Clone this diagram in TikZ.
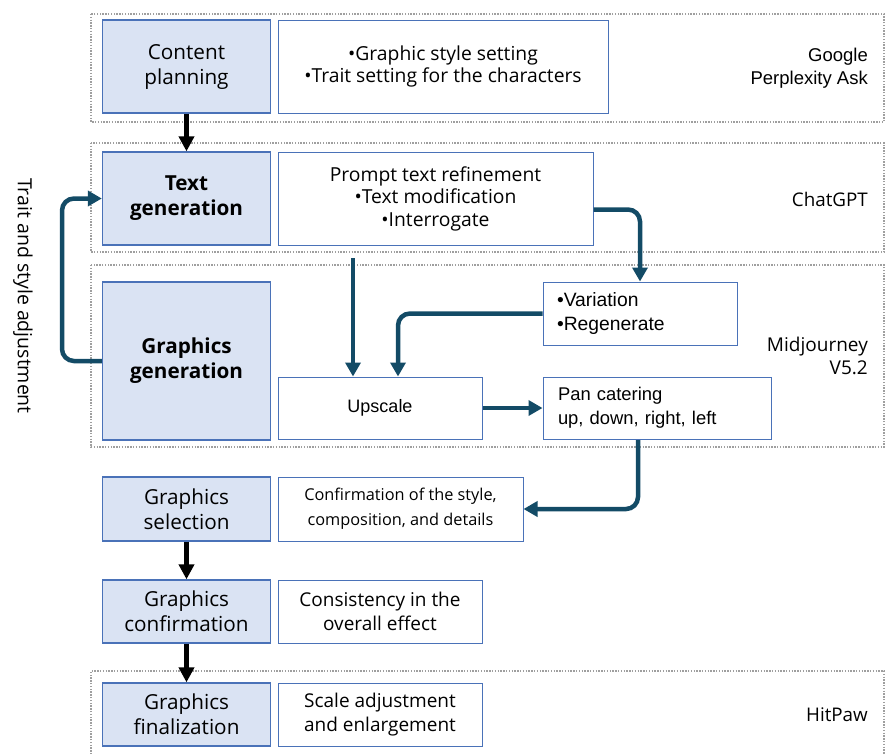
\documentclass[tikz,border=0pt]{standalone}
\usepackage{fontspec}
\setmainfont{Open Sans}
\newfontfamily\arialfont{Liberation Sans}
\usetikzlibrary{arrows.meta}
\definecolor{boxblue}{HTML}{DAE3F3}
\definecolor{edgeblue}{HTML}{4A72B8}
\definecolor{flowteal}{HTML}{134B66}
\tikzset{
  stage/.style={draw=edgeblue, fill=boxblue, line width=1.3pt, minimum width=168pt,
    align=center, inner sep=0pt, font=\fontsize{20.7}{25}\selectfont},
  info/.style={draw=edgeblue, fill=white, line width=1pt, align=center, inner sep=0pt,
    font=\fontsize{19.3}{22.5}\selectfont},
  group/.style={draw=gray!75, line width=1.4pt, dash pattern=on 1.4pt off 1.4pt},
  tool/.style={anchor=east, align=right, inner sep=0pt},
  down/.style={line width=5.5pt, -{Triangle[length=15pt,width=15pt]}},
  flow/.style={draw=flowteal, line width=4.5pt, rounded corners=12pt,
    -{Triangle[length=14pt,width=15pt]}}
}
\begin{document}
\begin{tikzpicture}[x=1pt, y=-1pt]
  \useasboundingbox (0,0) rectangle (886,753);
  \draw[group] (91,14) rectangle (884,122);
  \draw[group] (91,143) rectangle (884,252);
  \draw[group] (91,265) rectangle (884,447);
  \draw[group] (91,760) -- (91,671) -- (884,671) -- (884,760);

  \node[stage, minimum height=93pt] (plan) at (186.5,66.5) {Content\\planning};
  \node[stage, minimum height=93pt, font=\fontsize{20.7}{25}\selectfont\bfseries] (textgen) at (186.5,198.5) {Text\\generation};
  \node[stage, minimum height=158pt, font=\fontsize{20.7}{25}\selectfont\bfseries] (graphgen) at (186.5,361) {Graphics\\generation};
  \node[stage, minimum height=64pt] (select) at (186.5,509) {Graphics\\selection};
  \node[stage, minimum height=63pt] (confirm) at (186.5,611.5) {Graphics\\confirmation};
  \node[stage, minimum height=63pt] (final) at (186.5,714.5) {Graphics\\finalization};

  \node[info, minimum width=330pt, minimum height=93pt] (setting) at (443,66.5)
    {•Graphic style setting\\•Trait setting for the characters};
  \node[info, minimum width=315pt, minimum height=93pt] (prompt) at (435.5,198.5)
    {Prompt text refinement\\•Text modification\\•Interrogate};
  \node[info, minimum width=194pt, minimum height=63pt, align=left, text width=166pt,
    font=\arialfont\fontsize{19.3}{23.5}\selectfont] (vary) at (640,313.5) {•Variation\\•Regenerate};
  \node[info, minimum width=204pt, minimum height=62pt, font=\arialfont\fontsize{18}{20}\selectfont]
    (upscale) at (380,408) {Upscale};
  \node[info, minimum width=228pt, minimum height=62pt, align=left, text width=198pt,
    font=\arialfont\fontsize{18.4}{24}\selectfont] (pan) at (657,408) {Pan catering\\up, down, right, left};
  \node[info, minimum width=245pt, minimum height=64pt, font=\fontsize{16.3}{25}\selectfont]
    (style) at (400.5,509) {Confirmation of the style,\\composition, and details};
  \node[info, minimum width=204pt, minimum height=63pt, font=\fontsize{19}{24}\selectfont]
    (consist) at (380,611.5) {Consistency in the\\overall effect};
  \node[info, minimum width=204pt, minimum height=63pt, font=\fontsize{19}{24}\selectfont]
    (scale) at (380,714.5) {Scale adjustment\\and enlargement};

  \node[tool, font=\arialfont\fontsize{18.5}{23}\selectfont] (google) at (868,68) {Google\\Perplexity Ask};
  \node[tool, font=\fontsize{18.8}{23}\selectfont] (chatgpt) at (868,199) {ChatGPT};
  \node[tool, font=\fontsize{19}{23}\selectfont] (midj) at (868,356) {Midjourney\\V5.2};
  \node[tool, font=\fontsize{18.8}{23}\selectfont] (hitpaw) at (868,715) {HitPaw};
  \node[rotate=-90, font=\fontsize{19.5}{24}\selectfont] (adjust) at (23,296) {Trait and style adjustment};

  \coordinate (fromprompt) at (353,258);
  \coordinate (fromvary) at (398,313.5);
  \coordinate (frompan) at (638,440);

  \draw[down] (plan) -- (textgen);
  \draw[down] (select) -- (confirm);
  \draw[down] (confirm) -- (final);

  \begin{scope}[flow]
    \draw (graphgen.west) -- (62,361) |- (textgen.west);
    \draw ([yshift=-11pt]prompt.east) -| (vary.north);
    \draw[rounded corners=0pt] (fromprompt) -- (fromprompt |- upscale.north);
    \draw (vary.west) -| (fromvary |- upscale.north);
    \draw[rounded corners=0pt] (upscale.east) -- (pan.west);
    \draw (frompan) |- (style.east);
  \end{scope}
\end{tikzpicture}
\end{document}
